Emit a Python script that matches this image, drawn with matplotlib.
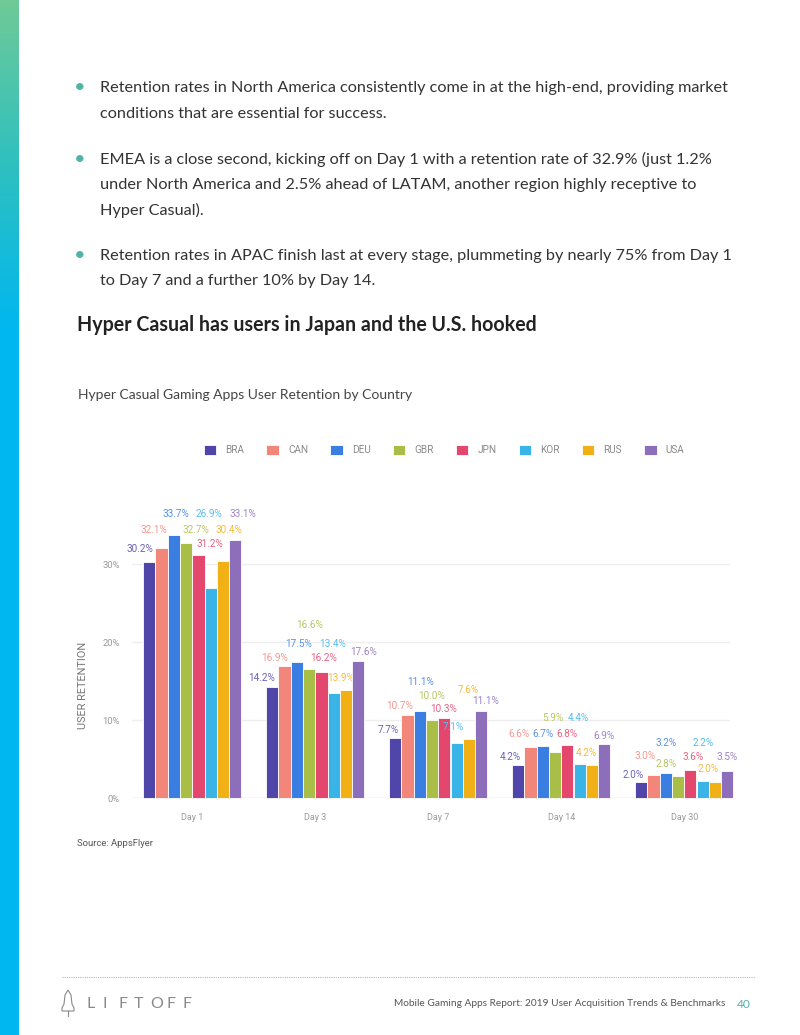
import numpy as np
import matplotlib
matplotlib.use("Agg")
from matplotlib import pyplot as plt
from matplotlib.colors import LinearSegmentedColormap, to_rgb
from matplotlib.patches import Polygon

# data
days = ["Day 1", "Day 3", "Day 7", "Day 14", "Day 30"]
countries = ["BRA", "CAN", "DEU", "GBR", "JPN", "KOR", "RUS", "USA"]
bra = [30.2, 14.2, 7.7, 4.2, 2.0]
can = [32.1, 16.9, 10.7, 6.6, 3.0]
deu = [33.7, 17.5, 11.1, 6.7, 3.2]
gbr = [32.7, 16.6, 10.0, 5.9, 2.8]
jpn = [31.2, 16.2, 10.3, 6.8, 3.6]
kor = [26.9, 13.4, 7.1, 4.4, 2.2]
rus = [30.4, 13.9, 7.6, 4.2, 2.0]
usa = [33.1, 17.6, 11.1, 6.9, 3.5]
series = [bra, can, deu, gbr, jpn, kor, rus, usa]
colors = ["#5046aa", "#f2867a", "#3a7ee1", "#a9be47", "#e4476e", "#3ab3e7", "#f2b017", "#8d6eba"]

# label placement (staggered like the original), y in % units, dx in px
label_y = [
    [31.9, 15.4, 8.7, 5.3, 3.0],
    [34.4, 18.0, 11.8, 8.2, 5.4],
    [36.4, 19.8, 14.9, 8.2, 7.0],
    [34.4, 22.2, 13.1, 10.3, 4.3],
    [32.6, 18.0, 11.45, 8.2, 5.2],
    [36.4, 19.8, 9.1, 10.3, 7.0],
    [34.4, 15.4, 13.9, 5.8, 3.7],
    [36.4, 18.7, 12.4, 8.0, 5.2],
]
label_dx = [
    [-9, -11, -7, -8, -8.5],
    [-8, -10, -8, -12, -8.5],
    [2, 2, 1, 0, 0],
    [10, 0, -1, -2, -11.5],
    [11, 2, -1, 0, 3],
    [-2, -1, -3, -1, 0],
    [6, -5, -1, -6, -6.5],
    [8, 5, 4, 0, 0],
]

W, H = 800, 1035
fig = plt.figure(figsize=(W / 100, H / 100), dpi=100)

def fx(x):
    return x / W

def fy(y):
    return 1 - y / H

def px2pt(p):
    return p * 0.72

# left gradient stripe
gax = fig.add_axes([0, 0, 19 / W, 1])
cmap = LinearSegmentedColormap.from_list("stripe", ["#6fca97", "#2ec0c0", "#00b7f0"])
grad = np.clip(np.linspace(0, 1, H) / 0.32, 0, 1).reshape(-1, 1)
gax.imshow(grad, aspect="auto", cmap=cmap, extent=[0, 1, 1, 0])
gax.axis("off")

# body text
body = "Lato"
txt_col = "#333333"
bullets = [
    (88, ["Retention rates in North America consistently come in at the high-end, providing market",
          "conditions that are essential for success."]),
    (159, ["EMEA is a close second, kicking off on Day 1 with a retention rate of 32.9% (just 1.2%",
           "under North America and 2.5% ahead of LATAM, another region highly receptive to",
           "Hyper Casual)."]),
    (256, ["Retention rates in APAC finish last at every stage, plummeting by nearly 75% from Day 1",
           "to Day 7 and a further 10% by Day 14."]),
]
for y0, lines in bullets:
    fig.text(fx(80), fy(y0), u"\u2022", color="#4fb3a8", fontsize=px2pt(20), ha="center", va="center", family=body)
    for k, line in enumerate(lines):
        fig.text(fx(100), fy(y0 + k * 25.5), line, color=txt_col, fontsize=px2pt(16.2),
                 ha="left", va="center", family=body)

fig.text(fx(77), fy(325), "Hyper Casual has users in Japan and the U.S. hooked", color="#222222",
         fontsize=px2pt(19.6), fontweight="bold", ha="left", va="center", family=body)

fig.text(fx(78), fy(395), "Hyper Casual Gaming Apps User Retention by Country", color="#444444",
         fontsize=px2pt(13.9), ha="left", va="center", family=body)

# chart
chart_font = "Roboto"
left, right = 132, 730
ymax = 37.0
top = 798 - ymax * 7.8
ax = fig.add_axes([fx(left), fy(798), (right - left) / W, (798 - top) / H])
x = np.arange(len(days))
bw = 0.099
for i, (vals, c) in enumerate(zip(series, colors)):
    xs = x + (i - 3.5) * 0.1
    ax.bar(xs, vals, width=bw, color=c, edgecolor="white", linewidth=0.6, label=countries[i], zorder=3,
           clip_on=False)
    rgb = np.array(to_rgb(c))
    lab_c = rgb * 0.85 + 0.15
    for j, v in enumerate(vals):
        ax.annotate("%.1f%%" % v, xy=(xs[j], label_y[i][j]), xytext=(px2pt(label_dx[i][j]), 0),
                    textcoords="offset points", ha="center", va="center", color=lab_c,
                    fontsize=px2pt(10), family=chart_font, annotation_clip=False)

ax.set_xlim(-0.49, 4.372)
ax.set_ylim(0, ymax)
ax.set_yticks([0, 10, 20, 30])
ax.set_yticklabels(["0%", "10%", "20%", "30%"], family=chart_font, fontsize=px2pt(9.5), color="#9a9a9a")
ax.set_xticks(x)
ax.set_xticklabels(days, family=chart_font, fontsize=px2pt(9), color="#9a9a9a")
ax.tick_params(axis="y", length=0, pad=px2pt(12))
ax.tick_params(axis="x", length=0, pad=px2pt(15))
for s in ax.spines.values():
    s.set_visible(False)
for g in [10, 20, 30]:
    ax.axhline(g, color="#eeeeee", lw=1, zorder=1)
ax.axhline(0, color="#d4d4d4", lw=1, zorder=2)

fig.text(fx(83), fy(685), "USER RETENTION", rotation=90, color="#777777", fontsize=px2pt(11),
         ha="center", va="center", family=chart_font)

fig.legend(loc="center", bbox_to_anchor=(fx(444), fy(450)), ncol=8, frameon=False,
           handlelength=1.25, handleheight=1.25, handletextpad=0.9, columnspacing=2.22,
           prop={"family": chart_font, "size": px2pt(10)}, labelcolor="#8a8a8a")

fig.text(fx(77), fy(843), "Source: AppsFlyer", color="#555555", fontsize=px2pt(9.5),
         ha="left", va="center", family=chart_font)

# footer
fig.add_artist(plt.Line2D([fx(62), fx(755)], [fy(977), fy(977)], color="#b5b5b5", lw=0.8,
                          linestyle=(0, (1, 1))))
rocket = [(68, 990), (71, 995), (72, 1004), (74, 1008), (74, 1011), (62, 1011), (62, 1008),
          (64, 1004), (65, 995)]
fig.add_artist(Polygon([(fx(a), fy(b)) for a, b in rocket], closed=True, fill=False,
                       edgecolor="#8a8a8a", lw=0.8))
fig.add_artist(plt.Line2D([fx(68), fx(68)], [fy(1011), fy(1016)], color="#8a8a8a", lw=0.8))
for k, ch in enumerate("LIFTOFF"):
    fig.text(fx(86 + k * 16.0), fy(1004), ch, color="#8a8a8a", fontsize=px2pt(16),
             ha="left", va="center", family=body)
fig.text(fx(725), fy(1004), "Mobile Gaming Apps Report: 2019 User Acquisition Trends & Benchmarks",
         color="#555555", fontsize=px2pt(10.1), ha="right", va="center", family=body)
fig.text(fx(737), fy(1004), "40", color="#4fb3a8", fontsize=px2pt(12), ha="left", va="center",
         family=body)

fig.savefig("out.png", dpi=100)
